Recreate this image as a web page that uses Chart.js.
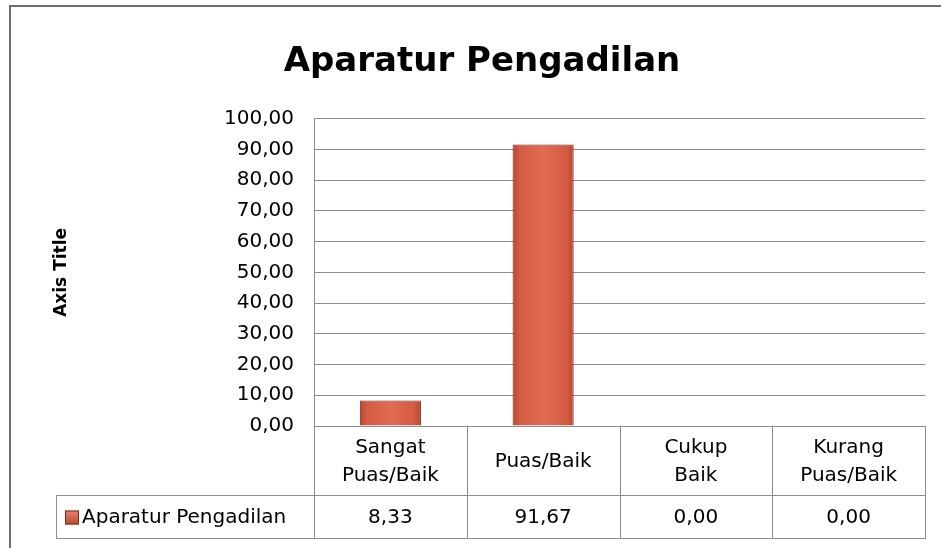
<!DOCTYPE html>
<html>
<head>
<meta charset="utf-8">
<script src="https://cdn.jsdelivr.net/npm/chart.js@4.4.1/dist/chart.umd.min.js"></script>
<style>
html,body{margin:0;padding:0;background:#fff;}
#wrap{width:941px;height:548px;position:relative;}
</style>
</head>
<body>
<div id="wrap"><canvas id="c" width="941" height="548"></canvas></div>
<script>
const chartTitle = "Aparatur Pengadilan";
const seriesName = "Aparatur Pengadilan";
const categories = [["Sangat", "Puas/Baik"], ["Puas/Baik"], ["Cukup", "Baik"], ["Kurang", "Puas/Baik"]];
const values = [8.33, 91.67, 0.00, 0.00];
const valueLabels = ["8,33", "91,67", "0,00", "0,00"];
const yTickLabels = ["0,00","10,00","20,00","30,00","40,00","50,00","60,00","70,00","80,00","90,00","100,00"];
const yAxisTitle = "Axis Title";

const FONT = "'DejaVu Sans', sans-serif";
const GRID = "#8c8c8c";
const BAR_PCT = 0.4;

function barGradient(ctx) {
  const chart = ctx.chart;
  const area = chart.chartArea;
  const xs = chart.scales && chart.scales.x;
  if (!area || !xs || ctx.dataIndex === undefined) return "#d9654a";
  const step = (area.right - area.left) / categories.length;
  const cx = xs.getPixelForValue(ctx.dataIndex);
  const w = step * BAR_PCT;
  if (!isFinite(cx)) return "#d9654a";
  const g = chart.ctx.createLinearGradient(cx - w / 2, 0, cx + w / 2, 0);
  g.addColorStop(0, "#b9472f");
  g.addColorStop(0.12, "#d45c43");
  g.addColorStop(0.5, "#e06b51");
  g.addColorStop(0.88, "#d45c43");
  g.addColorStop(1, "#b9472f");
  return g;
}

const tablePlugin = {
  id: 'tablePlugin',
  afterDraw(chart) {
    const ctx = chart.ctx;
    const xs = chart.scales.x;
    const area = chart.chartArea;
    const n = categories.length;
    const step = (area.right - area.left) / n;
    const bounds = [];
    for (let i = 0; i <= n; i++) bounds.push(area.left + step * i);
    const top = area.bottom;
    const midY = 495;
    const botY = 538;
    const legLeft = 56;
    ctx.save();
    ctx.strokeStyle = "#6e6e6e";
    ctx.lineWidth = 2;
    ctx.beginPath();
    ctx.moveTo(10, 548); ctx.lineTo(10, 6); ctx.lineTo(941, 6);
    ctx.stroke();
    ctx.strokeStyle = GRID;
    ctx.lineWidth = 1;
    ctx.beginPath();
    bounds.forEach(b => { const x = Math.round(b) + 0.5; ctx.moveTo(x, top); ctx.lineTo(x, botY); });
    ctx.moveTo(legLeft + 0.5, midY); ctx.lineTo(legLeft + 0.5, botY);
    ctx.moveTo(legLeft, midY + 0.5); ctx.lineTo(Math.round(area.right) + 1, midY + 0.5);
    ctx.moveTo(legLeft, botY + 0.5); ctx.lineTo(Math.round(area.right) + 1, botY + 0.5);
    ctx.stroke();
    ctx.fillStyle = "#000";
    ctx.font = "20px " + FONT;
    ctx.textAlign = "center";
    ctx.textBaseline = "middle";
    const hdrMid = (top + midY) / 2 + 1;
    categories.forEach((lab, i) => {
      const cx = xs.getPixelForValue(i);
      const lh = 28;
      const start = hdrMid - (lab.length - 1) * lh / 2;
      lab.forEach((t, j) => ctx.fillText(t, cx, start + j * lh));
    });
    const rowMid = (midY + botY) / 2 + 1;
    valueLabels.forEach((t, i) => ctx.fillText(t, xs.getPixelForValue(i), rowMid));
    const kg = ctx.createLinearGradient(0, rowMid - 7, 0, rowMid + 7);
    kg.addColorStop(0, "#e8866c");
    kg.addColorStop(1, "#b9472f");
    ctx.fillStyle = kg;
    ctx.fillRect(65, rowMid - 7, 14, 14);
    ctx.strokeStyle = "#7a2e1e";
    ctx.strokeRect(65.5, rowMid - 6.5, 13, 13);
    ctx.fillStyle = "#000";
    ctx.textAlign = "left";
    ctx.fillText(seriesName, 82, rowMid);
    ctx.restore();
  }
};

new Chart(document.getElementById('c'), {
  type: 'bar',
  data: {
    labels: categories.map(c => c.join(" ")),
    datasets: [{
      label: seriesName,
      data: values,
      backgroundColor: barGradient,
      borderColor: "#6e2a1c",
      borderWidth: 1,
      barPercentage: BAR_PCT,
      categoryPercentage: 1.0
    }]
  },
  options: {
    responsive: false,
    animation: false,
    layout: { padding: { left: 39, right: 16, top: 0, bottom: 0 } },
    plugins: {
      legend: { display: false },
      tooltip: { enabled: false },
      title: {
        display: true,
        text: chartTitle,
        color: "#000",
        font: { family: FONT, size: 34, weight: 'bold' },
        padding: { top: 42, bottom: 36 }
      }
    },
    scales: {
      x: {
        grid: { display: false, drawTicks: false },
        border: { display: false },
        ticks: { display: false },
        afterFit(scale) { scale.height = 122; }
      },
      y: {
        min: 0, max: 100,
        ticks: {
          stepSize: 10,
          color: "#000",
          font: { family: FONT, size: 20 },
          padding: 20,
          callback: (v, i) => yTickLabels[i]
        },
        grid: { color: GRID, drawTicks: false, lineWidth: 1 },
        border: { display: true, color: GRID },
        title: {
          display: true,
          text: yAxisTitle,
          color: "#000",
          font: { family: FONT, size: 17, weight: 'bold' },
          padding: { top: 12, bottom: 0 }
        },
        afterFit(scale) { scale.width = 314 - 39; }
      }
    }
  },
  plugins: [tablePlugin]
});
</script>
</body>
</html>
